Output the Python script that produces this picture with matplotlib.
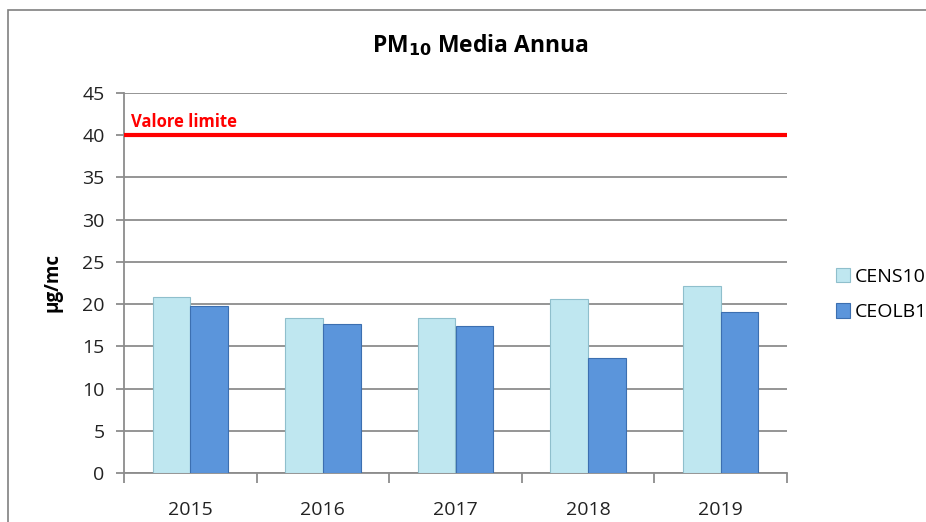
import matplotlib
matplotlib.use("Agg")
import matplotlib.pyplot as plt
import numpy as np
from matplotlib.patches import Rectangle

years = ["2015", "2016", "2017", "2018", "2019"]
cens10 = [20.9, 18.4, 18.3, 20.6, 22.2]
ceolb1 = [19.8, 17.7, 17.4, 13.6, 19.1]
series_names = ["CENS10", "CEOLB1"]
limit_value = 40
yticks = [0, 5, 10, 15, 20, 25, 30, 35, 40, 45]

plt.rcParams['font.family'] = ['Open Sans', 'DejaVu Sans']

W, H = 926, 522
fig = plt.figure(figsize=(W / 100, H / 100), dpi=100)

# outer chart border (extends beyond image edges)
fig.patches.append(Rectangle((8 / W, -0.1), 1.2, (H - 10) / H + 0.1,
                             transform=fig.transFigure, fill=False,
                             edgecolor="#808080", linewidth=1.2))

ax_left, ax_right = 124, 787
ax_top, ax_bottom = 93, 473
ax = fig.add_axes([ax_left / W, 1 - ax_bottom / H,
                   (ax_right - ax_left) / W, (ax_bottom - ax_top) / H])

x = np.arange(len(years))
bw = 0.285
c1, e1 = "#BFE7F0", "#8FBFCC"
c2, e2 = "#5B95DB", "#3C6FB0"
ax.bar(x - bw / 2, cens10, bw, color=c1, edgecolor=e1, linewidth=0.8,
       label=series_names[0], zorder=3)
ax.bar(x + bw / 2, ceolb1, bw, color=c2, edgecolor=e2, linewidth=0.8,
       label=series_names[1], zorder=3)

ax.axhline(limit_value, color="#FF0000", linewidth=3, zorder=4)
ax.text(-0.45, limit_value + 0.5, "Valore limite", color="#FF0000",
        fontsize=12, fontweight="bold", ha="left", va="bottom", zorder=5)

ax.set_xlim(-0.5, len(years) - 0.5)
ax.set_ylim(0, 45)
ax.set_yticks(yticks)
ax.set_yticklabels([str(v) for v in yticks], fontsize=14, color="#222222")
ax.yaxis.grid(True, color="#8C8C8C", linewidth=1.3, zorder=0)
ax.set_axisbelow(True)

ax.set_xticks(x)
ax.set_xticklabels(years, fontsize=14, color="#222222")
ax.set_xticks(np.arange(-0.5, len(years)), minor=True)
ax.tick_params(axis="x", which="major", length=0, pad=20)
ax.tick_params(axis="x", which="minor", length=7, width=1.3, color="#8C8C8C")
ax.tick_params(axis="y", length=6, width=1.3, color="#8C8C8C", pad=8)

for s in ["top", "right"]:
    ax.spines[s].set_visible(False)
for s in ["left", "bottom"]:
    ax.spines[s].set_color("#8C8C8C")
    ax.spines[s].set_linewidth(1.3)

ax.set_ylabel("µg/mc", fontsize=13.5, fontweight="bold", labelpad=14)

fig.text(480 / W, 1 - 45 / H, r"PM$_{\mathbf{10}}$ Media Annua", ha="center",
         va="center", fontsize=16.5, fontweight="bold")

leg = ax.legend(loc="upper left", bbox_to_anchor=(828 / W, 1 - 260 / H),
                bbox_transform=fig.transFigure, frameon=False,
                fontsize=14, handlelength=0.75, handleheight=0.75,
                handletextpad=0.25, labelspacing=0.9, borderaxespad=0)

fig.savefig("out.png", dpi=100)
